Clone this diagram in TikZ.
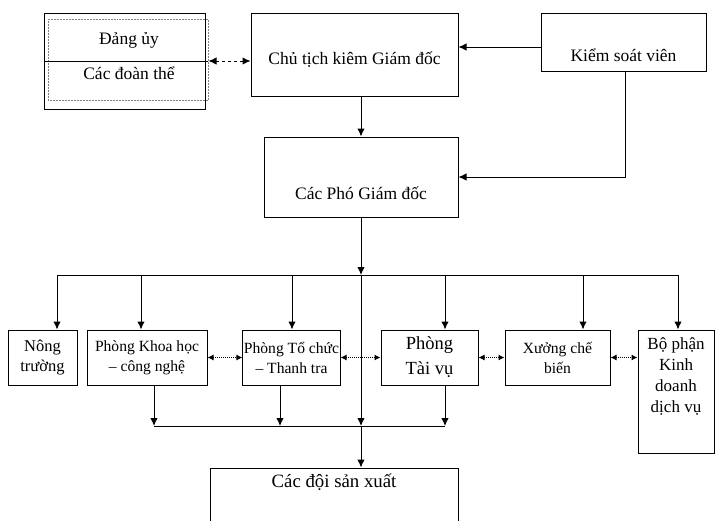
\documentclass[tikz,border=0pt]{standalone}
\usepackage{fontspec}
\setmainfont{Liberation Serif}
\usetikzlibrary{arrows.meta,positioning,calc}

\begin{document}
\begin{tikzpicture}[x=1pt,y=-1pt,>={Latex[length=8pt,width=7.5pt]},line width=1pt,
  box/.style={draw,inner sep=1pt},
  txt/.style={font=\fontsize{17.5}{21}\selectfont,align=center},
  stxt/.style={font=\fontsize{15.6}{20}\selectfont,align=center},
  dot/.style={<->,densely dotted,>={Latex[length=6pt,width=6pt]}}]
\useasboundingbox (0,0) rectangle (715,520);
% top row
\node[box,minimum width=161pt,minimum height=96pt] (dang) at (124.5,61) {};
\draw[densely dotted,gray,line width=0.5pt] (48,19) rectangle (208,100);
\draw (dang.west) -- ([xshift=2pt]dang.east);
\node[txt] (du) at (129,40) {Đảng ủy};
\node[txt] (dt) at (129,73) {Các đoàn thể};
\node[box,minimum width=207pt,minimum height=83pt,label={[txt,yshift=-5pt]center:Chủ tịch kiêm Giám đốc}] (ct) at (354.5,54.5) {};
\node[box,minimum width=165pt,minimum height=58pt,label={[txt,yshift=-13pt]center:Kiểm soát viên}] (ks) at (623.5,42) {};
\node[box,minimum width=194pt,minimum height=80pt,label={[txt,yshift=-16pt]center:Các Phó Giám đốc}] (pgd) at (361,177) {};
% departments
\node[box,txt,font=\fontsize{16.5}{20}\selectfont,minimum width=69pt,minimum height=55pt] (nt) at (42.5,357.5) {Nông\\trường};
\node[box,stxt,minimum width=120pt,minimum height=55pt] (kh) at (147,357.5) {Phòng Khoa học\\– công nghệ};
\node[box,stxt,minimum width=97pt,minimum height=55pt] (tc) at (291.5,357.5) {Phòng Tổ chức\\– Thanh tra};
\node[box,txt,font=\fontsize{18.5}{25}\selectfont,minimum width=97pt,minimum height=55pt] (tv) at (429.5,357.5) {Phòng\\Tài vụ};
\node[box,stxt,minimum width=105pt,minimum height=55pt] (xcb) at (557.5,357.5) {Xưởng chế\\biến};
\node[box,minimum width=76pt,minimum height=123pt,label={[txt,font=\fontsize{17}{21}\selectfont,yshift=15pt]center:Bộ phận\\Kinh\\doanh\\dịch vụ}] (bp) at (676,391.5) {};
\node[box,minimum width=248pt,minimum height=60pt,label={[txt,font=\fontsize{18.8}{22}\selectfont,yshift=16pt]center:Các đội sản xuất}] (cd) at (334,498) {};
% connectors
\coordinate (bus) at (361,275);
\coordinate (bus2) at (361,426);
\draw[<->,dashed] ([xshift=3pt]dang.east) -- (dang.east -| ct.west);
\draw[->] ([yshift=-5pt]ks.west) -- ([yshift=-5pt]ks.west -| ct.east);
\draw[->] (ct.south -| pgd.north) -- (pgd.north);
\draw[->] ([xshift=1.5pt]ks.south) |- (pgd.east);
\draw[->] (pgd.south) -- (bus);
\draw[->] (bus) -- (bus2);
\draw[->] (bus2) -- (cd.north -| bus2);
\draw ([xshift=14.5pt]nt.north |- bus) -- ([xshift=2pt]bp.north |- bus);
\foreach \n/\d in {nt/14.5,kh/-6,tc/0.5,tv/15.5,xcb/25.5,bp/2}
  \draw[->] ([xshift=\d pt]\n.north |- bus) -- ([xshift=\d pt]\n.north);
\foreach \n/\d in {kh/7,tc/-11.5,tv/15.5}
  \draw[->] ([xshift=\d pt]\n.south) -- ([xshift=\d pt]\n.south |- bus2);
\draw ([xshift=7pt]kh.south |- bus2) -- ([xshift=15.5pt]tv.south |- bus2);
\foreach \a/\b in {kh/tc,tc/tv,tv/xcb,xcb/bp}
  \draw[dot] (\a.east) -- (\a.east -| \b.west);
\end{tikzpicture}
\end{document}
